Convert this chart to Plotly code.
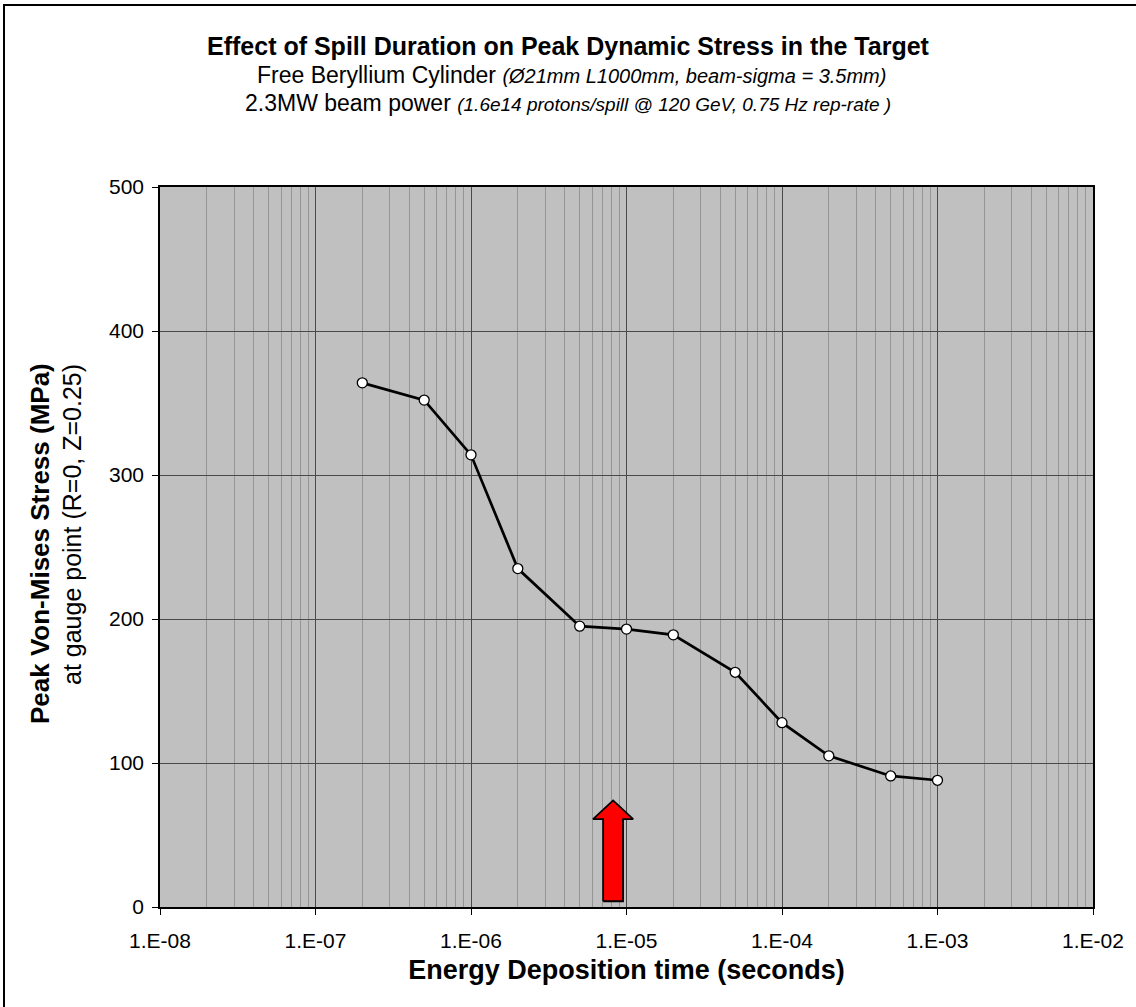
import numpy as np
import plotly.graph_objects as go

# ---- data ----
times = [2e-7, 5e-7, 1e-6, 2e-6, 5e-6, 1e-5, 2e-5, 5e-5, 1e-4, 2e-4, 5e-4, 1e-3]
stress = [364, 352, 314, 235, 195, 193, 189, 163, 128, 105, 91, 88]
x_tickvals = [1e-8, 1e-7, 1e-6, 1e-5, 1e-4, 1e-3, 1e-2]
x_ticktext = ["1.E-08", "1.E-07", "1.E-06", "1.E-05", "1.E-04", "1.E-03", "1.E-02"]
y_tickvals = [0, 100, 200, 300, 400, 500]
arrow_x = 8.2e-6
arrow_top = 74
arrow_head_base = 61
arrow_bottom = 4

FONT = "Liberation Sans, Arial, sans-serif"

# minor gridline positions (2..9 of each decade)
minor_vals = [m * 10.0 ** e for e in range(-8, -2) for m in range(2, 10)]

# arrow polygon (log-space widths)
lx = np.log10(arrow_x)
sw, hw = 0.064, 0.129
ax = [10 ** (lx - sw), 10 ** (lx - sw), 10 ** (lx - hw), arrow_x, 10 ** (lx + hw),
      10 ** (lx + sw), 10 ** (lx + sw), 10 ** (lx - sw)]
ay = [arrow_bottom, arrow_head_base, arrow_head_base, arrow_top, arrow_head_base,
      arrow_head_base, arrow_bottom, arrow_bottom]

fig = go.Figure()
fig.add_trace(go.Scatter(x=ax, y=ay, mode="lines", fill="toself", fillcolor="#FF0000",
                         line=dict(color="black", width=1.8), hoverinfo="skip", showlegend=False))
fig.add_trace(go.Scatter(x=times, y=stress, mode="lines+markers",
                         line=dict(color="black", width=2.7),
                         marker=dict(symbol="circle", size=10, color="white",
                                     line=dict(color="black", width=1.3)),
                         showlegend=False))

W, H = 1136, 1007
L, R, T, B = 160, 43, 187, 100
pw, ph = W - L - R, H - T - B

def px(xp):
    return (xp - L) / pw

def py(yp):
    return 1 - (yp - T) / ph

fig.update_layout(
    width=W, height=H,
    margin=dict(l=L, r=R, t=T, b=B),
    paper_bgcolor="white", plot_bgcolor="#C0C0C0",
    font=dict(family=FONT, color="black", size=21),
    xaxis=dict(type="log", range=[-8, -2], tickvals=x_tickvals, ticktext=x_ticktext,
               showgrid=True, gridcolor="#4a4a4a", gridwidth=1,
               ticks="outside", ticklen=6, tickcolor="black",
               showline=True, linecolor="black", linewidth=1.5, mirror=True,
               tickfont=dict(size=21), ticklabelstandoff=8,
               minor=dict(tickvals=minor_vals, showgrid=True, gridcolor="#959595", gridwidth=1.3, ticks=""),
               title=dict(text="<b>Energy Deposition time (seconds)</b>", font=dict(size=27), standoff=9),
               zeroline=False),
    yaxis=dict(range=[0, 500], tickvals=y_tickvals,
               showgrid=True, gridcolor="#4a4a4a", gridwidth=1,
               ticks="outside", ticklen=6, tickcolor="black",
               showline=True, linecolor="black", linewidth=1.5, mirror=True,
               tickfont=dict(size=21), ticklabelstandoff=4,
               zeroline=False),
    annotations=[
        dict(text="<b>Effect of Spill Duration on Peak Dynamic Stress in the Target</b>",
             xref="paper", yref="paper", x=px(568), y=py(46), showarrow=False,
             font=dict(size=25), xanchor="center", yanchor="middle"),
        dict(text="Free Beryllium Cylinder <i><span style='font-size:20px'>(Ø21mm L1000mm, beam-sigma = 3.5mm)</span></i>",
             xref="paper", yref="paper", x=px(571), y=py(75), showarrow=False,
             font=dict(size=23), xanchor="center", yanchor="middle"),
        dict(text="2.3MW beam power <i><span style='font-size:19px'>(1.6e14 protons/spill @ 120 GeV, 0.75 Hz rep-rate )</span></i>",
             xref="paper", yref="paper", x=px(568), y=py(103), showarrow=False,
             font=dict(size=23), xanchor="center", yanchor="middle"),
        dict(text="<b>Peak Von-Mises Stress (MPa)</b>", textangle=-90,
             xref="paper", yref="paper", x=px(40), y=py(544), showarrow=False,
             font=dict(size=26), xanchor="center", yanchor="middle"),
        dict(text="at gauge point (R=0, Z=0.25)", textangle=-90,
             xref="paper", yref="paper", x=px(72), y=py(525), showarrow=False,
             font=dict(size=25), xanchor="center", yanchor="middle"),
    ],
    shapes=[
        dict(type="rect", xref="paper", yref="paper", x0=px(4), x1=px(1145), y0=py(1015), y1=py(5),
             line=dict(color="black", width=2), fillcolor="rgba(0,0,0,0)", layer="above"),
    ],
)

fig.write_html("out.html")
